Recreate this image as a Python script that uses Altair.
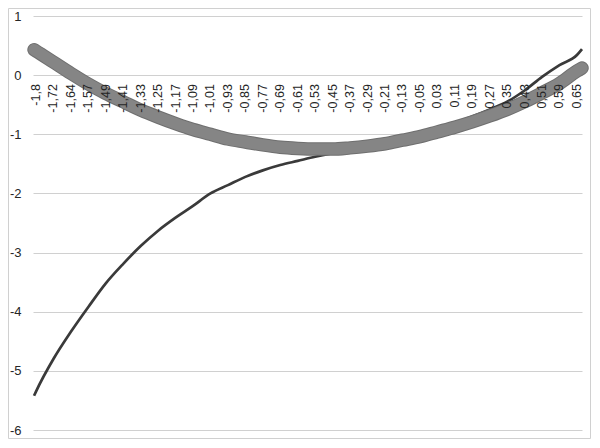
import altair as alt
import pandas as pd

# category positions (index of the labelled categories; ends slightly outside)
x_pos = [-0.11] + list(range(32)) + [31.29]

thick_vals = [0.43, 0.41, 0.22, 0.03, -0.15, -0.31, -0.45, -0.59, -0.71, -0.82,
              -0.92, -1.00, -1.08, -1.13, -1.18, -1.22, -1.24, -1.25, -1.25, -1.23,
              -1.20, -1.16, -1.10, -1.04, -0.96, -0.88, -0.79, -0.69, -0.58, -0.45,
              -0.30, -0.14, 0.07, 0.12]

thin_vals = [-5.42, -5.35, -4.80, -4.34, -3.92, -3.52, -3.19, -2.89, -2.63, -2.41,
             -2.21, -2.00, -1.86, -1.72, -1.61, -1.52, -1.45, -1.38, -1.32, -1.27,
             -1.21, -1.15, -1.08, -1.00, -0.91, -0.81, -0.70, -0.58, -0.45, -0.26,
             -0.03, 0.17, 0.34, 0.44]

x_labels = ["-1,8", "-1,72", "-1,64", "-1,57", "-1,49", "-1,41", "-1,33", "-1,25",
            "-1,17", "-1,09", "-1,01", "-0,93", "-0,85", "-0,77", "-0,69", "-0,61",
            "-0,53", "-0,45", "-0,37", "-0,29", "-0,21", "-0,13", "-0,05", "0,03",
            "0,11", "0,19", "0,27", "0,35", "0,43", "0,51", "0,59", "0,65"]

y_ticks = [1, 0, -1, -2, -3, -4, -5, -6]

FONT = "Liberation Sans"
TXT = "#262626"

thick_df = pd.DataFrame({"x": x_pos, "y": thick_vals})
thin_df = pd.DataFrame({"x": x_pos, "y": thin_vals})
lab_df = pd.DataFrame({"x": list(range(len(x_labels))), "y": [0] * len(x_labels),
                       "label": x_labels})

xenc = alt.X("x:Q", scale=alt.Scale(domain=[-0.17, 31.29], nice=False, zero=False),
             axis=None)
yenc = alt.Y("y:Q", scale=alt.Scale(domain=[-6, 1], nice=False, zero=False),
             axis=alt.Axis(values=y_ticks, grid=True, gridColor="#d0d0d0", gridWidth=1,
                           domain=False, ticks=False, labelPadding=12, labelFontSize=13,
                           labelFont=FONT, labelColor=TXT, title=None,
                           labelExpr="datum.value < 0 ? '-' + abs(datum.value) : '' + datum.value"))

frame = alt.Chart(pd.DataFrame({"a": [0]})).mark_rect(
    fillOpacity=0, stroke="#d0d0d0", strokeWidth=1
).encode(
    x=alt.value(-24.5), x2=alt.value(557.5), y=alt.value(-7.5), y2=alt.value(422.5)
)

thin = alt.Chart(thin_df).mark_line(
    color="#3a3a3a", strokeWidth=2.7, interpolate="monotone"
).encode(x=xenc, y=yenc)

thick_edge = alt.Chart(thick_df).mark_line(
    color="#6f6f6f", strokeWidth=13.5, strokeCap="round", strokeJoin="round",
    interpolate="monotone"
).encode(x=xenc, y=yenc)

thick = alt.Chart(thick_df).mark_line(
    color="#858585", strokeWidth=11.5, strokeCap="round", strokeJoin="round",
    interpolate="monotone"
).encode(x=xenc, y=yenc)

labels = alt.Chart(lab_df).mark_text(
    angle=270, align="right", baseline="middle", dx=-9, fontSize=12.5,
    font=FONT, color=TXT
).encode(x=xenc, y=yenc, text="label:N")

chart = alt.layer(frame, thin, thick_edge, thick, labels).properties(
    width=549, height=414,
    padding={"left": 25, "top": 8, "right": 9, "bottom": 9},
    autosize="none", background="white"
).configure_view(strokeOpacity=0)

chart.save("out.html", embed_options={"renderer": "svg", "actions": False})
